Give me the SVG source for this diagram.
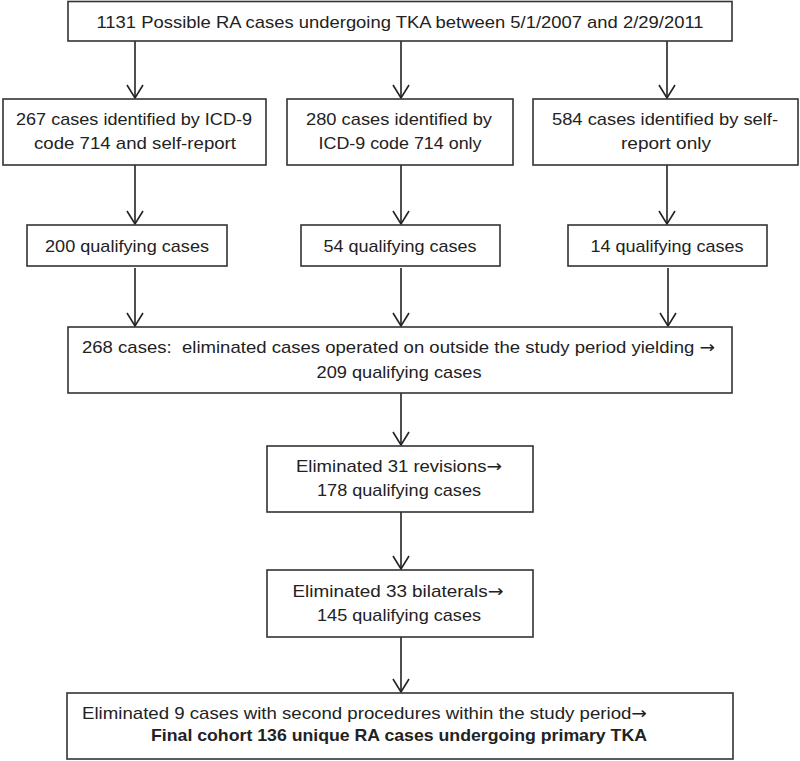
<svg xmlns="http://www.w3.org/2000/svg" width="800" height="761" viewBox="0 0 800 761">
<style>
.box{fill:#fff;stroke:#333;stroke-width:1.6}
.t{font-family:"Liberation Sans",Arial,sans-serif;font-size:17px;fill:#222;white-space:pre}
.c{text-anchor:middle}
.b{font-weight:bold}
.ar{font-family:"DejaVu Sans",sans-serif;font-size:17px}
.con line{stroke:#222;stroke-width:1.6}
</style>
<defs>
<marker id="ah" viewBox="0 0 14 16" refX="13" refY="8" markerWidth="14" markerHeight="16" markerUnits="userSpaceOnUse" orient="auto" overflow="visible">
<path d="M0,0 L13,8 L0,16" fill="none" stroke="#222" stroke-width="1.6"/>
</marker>
</defs>
<rect width="800" height="761" fill="#fff"/>
<g id="connectors" class="con">
<line x1="135" y1="41" x2="135" y2="98" marker-end="url(#ah)"/>
<line x1="401" y1="41" x2="401" y2="98" marker-end="url(#ah)"/>
<line x1="667" y1="41" x2="667" y2="98" marker-end="url(#ah)"/>
<line x1="135" y1="165" x2="135" y2="224" marker-end="url(#ah)"/>
<line x1="401" y1="165" x2="401" y2="224" marker-end="url(#ah)"/>
<line x1="667" y1="165" x2="667" y2="224" marker-end="url(#ah)"/>
<line x1="135" y1="268" x2="135" y2="326" marker-end="url(#ah)"/>
<line x1="401" y1="268" x2="401" y2="326" marker-end="url(#ah)"/>
<line x1="668" y1="268" x2="668" y2="326" marker-end="url(#ah)"/>
<line x1="401" y1="393" x2="401" y2="445" marker-end="url(#ah)"/>
<line x1="401" y1="512" x2="401" y2="569" marker-end="url(#ah)"/>
<line x1="401" y1="637" x2="401" y2="692" marker-end="url(#ah)"/>
</g>
<g id="n_top">
<rect class="box" x="68" y="1.5" width="664" height="39.5"/>
<text class="t c" x="400" y="28" textLength="607" lengthAdjust="spacingAndGlyphs">1131 Possible RA cases undergoing TKA between 5/1/2007 and 2/29/2011</text>
</g>
<g id="n_icd_self">
<rect class="box" x="3" y="99" width="263" height="66"/>
<text class="t c" x="134" y="125" textLength="236" lengthAdjust="spacingAndGlyphs">267 cases identified by ICD-9</text>
<text class="t c" x="135" y="149" textLength="202" lengthAdjust="spacingAndGlyphs">code 714 and self-report</text>
</g>
<g id="n_icd_only">
<rect class="box" x="287" y="99" width="226" height="66"/>
<text class="t c" x="399" y="125" textLength="186" lengthAdjust="spacingAndGlyphs">280 cases identified by</text>
<text class="t c" x="400" y="149" textLength="163" lengthAdjust="spacingAndGlyphs">ICD-9 code 714 only</text>
</g>
<g id="n_self_only">
<rect class="box" x="533" y="99" width="265" height="66"/>
<text class="t c" x="665" y="125" textLength="226" lengthAdjust="spacingAndGlyphs">584 cases identified by self-</text>
<text class="t c" x="666" y="149" textLength="90" lengthAdjust="spacingAndGlyphs">report only</text>
</g>
<g id="n_q200">
<rect class="box" x="27" y="225" width="200" height="41"/>
<text class="t c" x="127" y="252" textLength="164" lengthAdjust="spacingAndGlyphs">200 qualifying cases</text>
</g>
<g id="n_q54">
<rect class="box" x="301" y="225" width="199" height="41"/>
<text class="t c" x="400" y="252" textLength="153" lengthAdjust="spacingAndGlyphs">54 qualifying cases</text>
</g>
<g id="n_q14">
<rect class="box" x="568" y="225" width="199" height="41"/>
<text class="t c" x="667" y="252" textLength="153" lengthAdjust="spacingAndGlyphs">14 qualifying cases</text>
</g>
<g id="n_268">
<rect class="box" x="68" y="327" width="664" height="66"/>
<text class="t" x="82" y="353" textLength="633" lengthAdjust="spacingAndGlyphs">268 cases:  eliminated cases operated on outside the study period yielding <tspan class="ar">→</tspan></text>
<text class="t c" x="399" y="378" textLength="165" lengthAdjust="spacingAndGlyphs">209 qualifying cases</text>
</g>
<g id="n_rev">
<rect class="box" x="267" y="446" width="266" height="66"/>
<text class="t c" x="399" y="472" textLength="206" lengthAdjust="spacingAndGlyphs">Eliminated 31 revisions<tspan class="ar">→</tspan></text>
<text class="t c" x="399" y="496" textLength="164" lengthAdjust="spacingAndGlyphs">178 qualifying cases</text>
</g>
<g id="n_bil">
<rect class="box" x="267" y="570" width="266" height="67"/>
<text class="t c" x="398" y="597" textLength="211" lengthAdjust="spacingAndGlyphs">Eliminated 33 bilaterals<tspan class="ar">→</tspan></text>
<text class="t c" x="399" y="621" textLength="164" lengthAdjust="spacingAndGlyphs">145 qualifying cases</text>
</g>
<g id="n_final">
<rect class="box" x="67" y="693" width="666" height="66"/>
<text class="t" x="82" y="719" textLength="565" lengthAdjust="spacingAndGlyphs">Eliminated 9 cases with second procedures within the study period<tspan class="ar">→</tspan></text>
<text class="t b" x="151" y="741" textLength="496" lengthAdjust="spacingAndGlyphs">Final cohort 136 unique RA cases undergoing primary TKA</text>
</g>
</svg>
